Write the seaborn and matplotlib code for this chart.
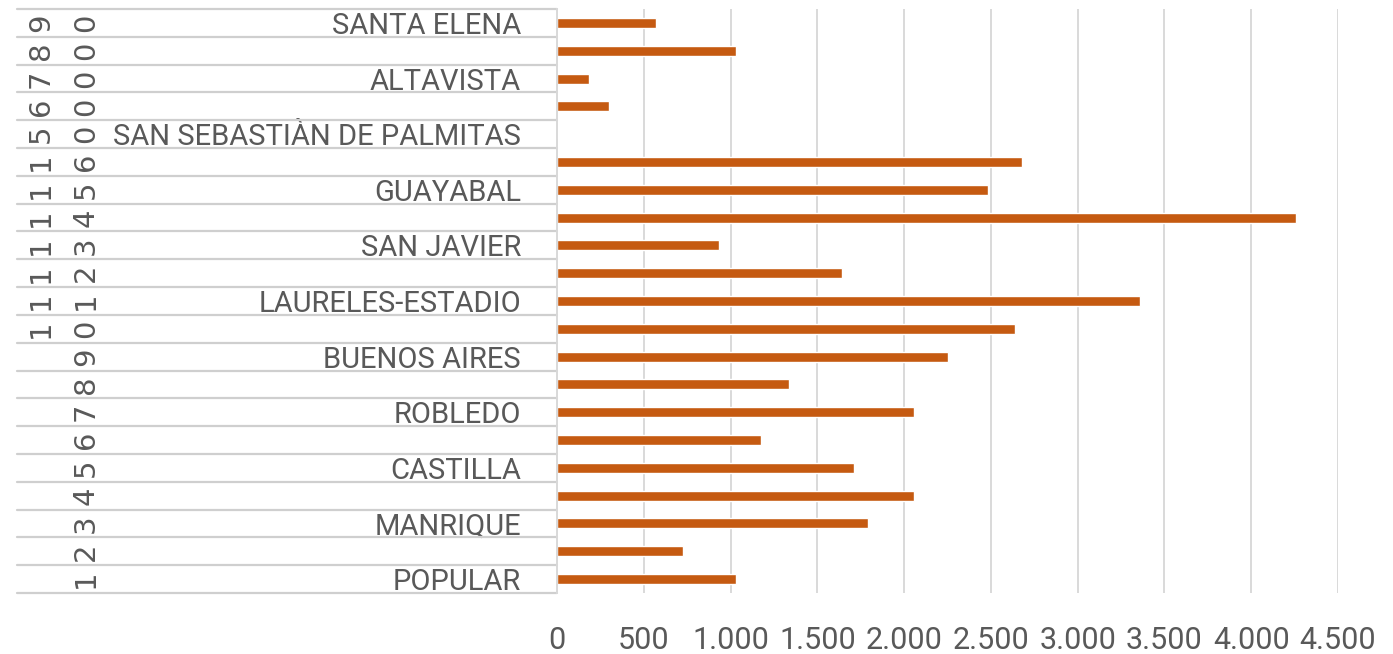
import matplotlib
matplotlib.use('Agg')
import matplotlib.pyplot as plt
import matplotlib.font_manager as fm
from matplotlib.ticker import FuncFormatter, MultipleLocator
import seaborn as sns
import pandas as pd

# Data: comuna code, visible label (Excel skipped every other one), value
codes = ['1', '2', '3', '4', '5', '6', '7', '8', '9', '10', '11', '12', '13',
         '14', '15', '16', '50', '60', '70', '80', '90']
names = ['POPULAR', '', 'MANRIQUE', '', 'CASTILLA', '', 'ROBLEDO', '',
         'BUENOS AIRES', '', 'LAURELES-ESTADIO', '', 'SAN JAVIER', '',
         'GUAYABAL', '', 'SAN SEBASTIÀN DE PALMITAS', '', 'ALTAVISTA', '',
         'SANTA ELENA']
values = [1029, 727, 1790, 2055, 1709, 1177, 2055, 1334, 2250, 2637, 3357,
          1643, 934, 4257, 2486, 2681, 0, 298, 182, 1033, 568]

df = pd.DataFrame({'code': codes, 'name': names, 'value': values})
order = codes[::-1]  # top row is 90

sns.set_style('white')
installed = {f.name for f in fm.fontManager.ttflist}
font = 'Liberation Sans Narrow' if 'Liberation Sans Narrow' in installed else 'Roboto'
plt.rcParams['font.family'] = [font, 'DejaVu Sans']

text_color = '#595959'
line_color = '#d9d9d9'
sep_color = '#cfcfcf'
bar_color = '#c55a11'

fig = plt.figure(figsize=(13.93, 6.54), dpi=100)
ax = fig.add_axes([557 / 1393, 1 - 593 / 654, 781 / 1393, 584 / 654])

sns.barplot(data=df, x='value', y='code', order=order, color=bar_color,
            width=0.36, saturation=1, ax=ax)

ax.set_xlim(0, 4500)
ax.set_ylim(len(codes) - 0.5, -0.5)
ax.xaxis.set_major_locator(MultipleLocator(500))
ax.xaxis.set_major_formatter(FuncFormatter(lambda v, p: f'{v:,.0f}'.replace(',', '.')))
ax.tick_params(axis='x', length=0, pad=24, labelsize=22, labelcolor=text_color)
ax.grid(axis='x', color=line_color, lw=1.4)
ax.set_axisbelow(True)
ax.set_xlabel('')
ax.set_ylabel('')

# inner level labels (district names)
name_by_code = dict(zip(codes, names))
ax.set_yticks(range(len(order)))
ax.set_yticklabels([name_by_code[c] for c in order])
ax.tick_params(axis='y', length=0, pad=26, labelsize=21, labelcolor=text_color)

for side in ['top', 'right', 'bottom']:
    ax.spines[side].set_visible(False)
ax.spines['left'].set_color(line_color)
ax.spines['left'].set_linewidth(1.4)

# category separators across the multi-level label area
ytr = ax.get_yaxis_transform()
left_edge = (17 - 557) / 781
for i in range(len(order) + 1):
    ax.plot([left_edge, 0], [i - 0.5, i - 0.5], transform=ytr, color=sep_color,
            lw=1.6, clip_on=False)

# outer level labels (codes), one rotated digit per column
col_left = (41 - 557) / 781
col_right = (86 - 557) / 781
for i, c in enumerate(order):
    cols = [col_right] if len(c) == 1 else [col_left, col_right]
    for ch, xpos in zip(c, cols):
        ax.text(xpos, i, ch, transform=ytr, rotation=90, ha='center', va='center',
                fontsize=21, color=text_color, family=['DejaVu Sans'])

fig.savefig('out.png', dpi=100)
